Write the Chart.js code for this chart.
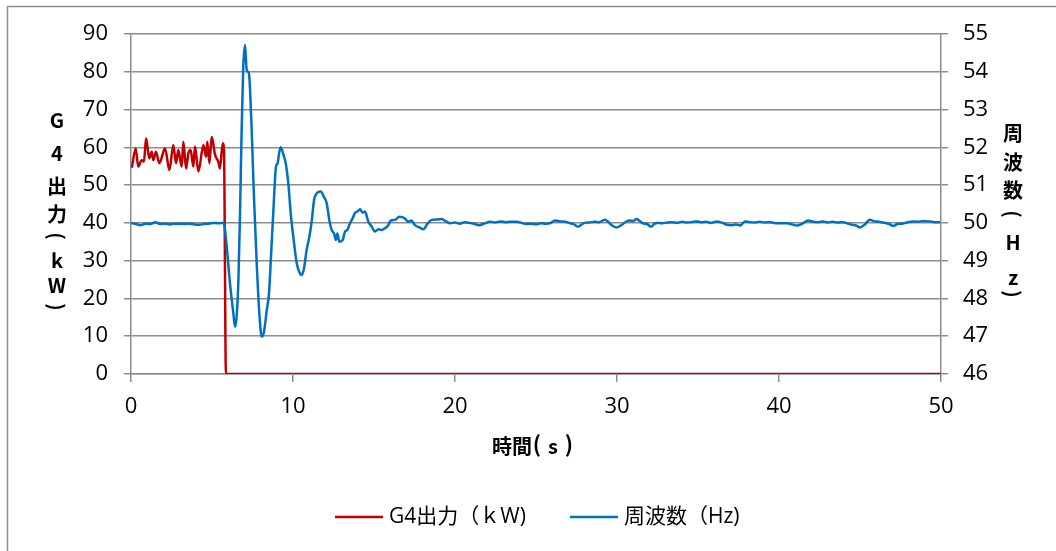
<!DOCTYPE html>
<html>
<head>
<meta charset="utf-8">
<script src="https://cdn.jsdelivr.net/npm/chart.js@4/dist/chart.umd.min.js"></script>
<style>
  html, body { margin: 0; padding: 0; background: #fff; overflow: hidden; }
  #wrap { position: absolute; left: 0; top: 0; width: 1056px; height: 551px; }
</style>
</head>
<body>
<div id="wrap"><canvas id="c" width="1056" height="551"></canvas></div>
<script>
// G4 output (kW) over time (s)
const powerTime = [0.05, 0.29, 0.45, 0.66, 0.80, 0.93, 1.13, 1.28, 1.38, 1.54, 1.75, 2.10, 2.37, 2.61, 2.78, 2.92,
  3.13, 3.23, 3.40, 3.54, 3.68, 3.85, 3.95, 4.16, 4.47, 4.63, 4.71, 4.84, 4.98, 5.19, 5.39, 5.49, 5.66, 5.74, 5.86, 50];
const powerKW = [54.6, 59.7, 54.9, 56.6, 56.2, 62.4, 57.1, 58.8, 56.6, 58.8, 55.8, 59.7, 54.0, 60.6, 55.8, 59.3,
  54.9, 61.5, 54.4, 58.4, 59.3, 54.9, 60.2, 53.6, 60.6, 57.5, 61.5, 55.8, 62.8, 58.0, 56.2, 54.4, 61.1, 59.3, 0, 0];

// Grid frequency (Hz) over time (s)
const freqTime = [0.0, 0.3, 0.6, 0.9, 1.2, 1.5, 1.8, 2.1, 2.4, 2.7, 3.0, 3.3, 3.6, 3.9, 4.2, 4.5, 4.8, 5.1, 5.4, 5.72,
  5.91, 6.11, 6.32, 6.42, 6.52, 6.63, 6.73, 6.83, 6.93, 7.04, 7.14, 7.28, 7.35, 7.45, 7.59, 7.76, 7.92, 8.07, 8.21,
  8.38, 8.52, 8.64, 8.79, 8.95, 9.05, 9.14, 9.24, 9.40, 9.55, 9.71, 9.86, 10.02, 10.23, 10.43, 10.54, 10.68, 10.84,
  11.01, 11.15, 11.30, 11.46, 11.71, 11.91, 12.08, 12.24, 12.39, 12.53, 12.65, 12.74, 12.86, 13.07, 13.21, 13.35,
  13.52, 13.68, 13.83, 13.97, 14.14, 14.30, 14.44, 14.65, 14.86, 15.06, 15.27, 15.47, 15.68, 15.88, 16.03, 16.30,
  16.56, 16.90, 17.12, 17.30, 17.53, 17.80, 18.05, 18.30, 18.56, 18.90, 19.18, 19.45,
  19.7, 20.0, 20.3, 20.6, 20.9, 21.2, 21.5, 21.8, 22.16, 22.5, 22.8, 23.1, 23.4, 23.8, 24.1, 24.4, 24.7, 25.0, 25.3,
  25.6, 25.86, 26.17, 26.5, 26.8, 27.1, 27.35, 27.6, 27.8, 28.0, 28.3, 28.6, 28.9, 29.26, 29.45, 29.67, 29.98, 30.3,
  30.55, 30.8, 31.0, 31.2, 31.4, 31.6, 31.85, 32.1, 32.3, 32.45, 32.8, 33.1, 33.4, 33.7, 34.0, 34.3, 34.6, 34.9,
  35.2, 35.5, 35.8, 36.15, 36.5, 36.8, 37.1, 37.35, 37.6, 37.9, 38.2, 38.5, 38.8, 39.1, 39.4, 39.7, 40.0, 40.5,
  40.8, 41.1, 41.4, 41.8, 42.1, 42.4, 42.7, 43.0, 43.3, 43.6, 43.97, 44.2, 44.5, 44.75, 45.0, 45.3, 45.6, 45.9,
  46.2, 46.4, 46.65, 46.85, 47.06, 47.3, 47.57, 47.9, 48.3, 48.6, 48.9, 49.3, 49.6, 49.94];
const freqHz = [50.00, 49.97, 49.94, 49.98, 49.97, 50.02, 49.97, 49.98, 49.96, 49.98, 49.98, 49.97, 49.98, 49.96,
  49.95, 49.97, 49.98, 50.00, 49.99, 50.00,
  49.37, 48.40, 47.60, 47.25, 47.52, 48.49, 50.25, 52.46, 54.13, 54.71, 54.05, 53.96, 53.52, 52.46, 50.69, 48.93,
  47.61, 46.99, 47.12, 47.69, 48.14, 49.10, 50.34, 51.49, 51.58, 51.84, 52.00, 51.82, 51.58, 51.05, 50.25, 49.63,
  48.93, 48.66, 48.62, 48.80, 49.28, 49.63, 50.03, 50.61, 50.78, 50.83, 50.69, 50.52, 50.08, 49.81, 49.72, 49.55,
  49.72, 49.50, 49.55, 49.77, 49.81, 49.99, 50.12, 50.27, 50.30, 50.36, 50.27, 50.30, 50.03, 49.90, 49.77, 49.83,
  49.81, 49.86, 49.94, 50.06, 50.08, 50.16, 50.12, 50.03, 50.06, 49.94, 49.88, 49.83, 49.98, 50.08, 50.09, 50.10,
  50.04,
  49.99, 50.01, 49.98, 50.02, 50.00, 49.97, 49.94, 49.98, 50.03, 50.01, 50.04, 50.02, 50.03, 50.03, 50.00, 49.97,
  49.98, 49.96, 49.99, 49.98, 49.99, 50.06, 50.04, 50.03, 49.99, 49.96, 49.90, 49.95, 50.00, 50.01, 50.03, 50.02,
  50.08, 50.03, 49.94, 49.88, 49.95, 50.03, 50.06, 50.05, 50.10, 50.05, 49.99, 49.97, 49.90, 49.97, 50.00, 49.99,
  50.01, 50.02, 50.00, 50.03, 50.01, 50.02, 50.04, 50.02, 50.03, 50.00, 50.04, 50.00, 49.95, 49.94, 49.96, 49.93,
  50.04, 50.02, 50.01, 50.03, 50.01, 50.02, 50.00, 49.99, 49.99, 49.96, 49.93, 49.97, 50.06, 50.03, 50.02, 50.04,
  50.01, 50.03, 50.01, 50.02, 49.99, 49.95, 49.93, 49.88, 49.96, 50.08, 50.04, 50.03, 50.01, 49.99, 49.96, 49.92,
  49.97, 49.98, 50.01, 50.04, 50.03, 50.05, 50.04, 50.02, 50.02];

// Axis ranges and labels
const timeTicks = [0, 10, 20, 30, 40, 50];
const powerRange = [0, 90];
const freqRange = [46, 55];
const seriesNames = ['G4出力（ｋW)', '周波数（Hz)'];
const xTitleParts = ['時間', '(', 's', ')'];
const leftTitle = ['G', '4', '出', '力', '(', 'k', 'W', ')'];
const rightTitle = ['周', '波', '数', '(', 'H', 'z', ')'];

const RED = '#C00000';
const BLUE = '#0070C0';
const GRID = '#8c8c8c';
const FONT = "'Open Sans', 'Noto Sans CJK JP', sans-serif";
const CJK = "'Noto Sans CJK JP', 'Open Sans', sans-serif";

const powerPts = powerTime.map((t, i) => ({ x: t, y: powerKW[i] }));
const freqPts = freqTime.map((t, i) => ({ x: t, y: freqHz[i] }));

// stacked vertical title: brackets are turned a quarter so they read top-to-bottom
function drawStacked(ctx, chars, x, ys) {
  chars.forEach((ch, i) => {
    if (ch === '(' || ch === ')') {
      ctx.save();
      ctx.translate(x, ys[i]);
      ctx.rotate(Math.PI / 2);
      ctx.fillText(ch, 0, 0);
      ctx.restore();
    } else {
      ctx.fillText(ch, x, ys[i]);
    }
  });
}

const decor = {
  id: 'decor',
  beforeDraw(chart) {
    const ctx = chart.ctx;
    ctx.save();
    ctx.fillStyle = '#fff';
    ctx.fillRect(0, 0, chart.width, chart.height);
    ctx.strokeStyle = '#8e8e8e';
    ctx.lineWidth = 1.5;
    ctx.strokeRect(7.5, 6.5, 1200, 700);
    ctx.restore();
  },
  afterDraw(chart) {
    const ctx = chart.ctx;
    ctx.save();
    ctx.fillStyle = '#000';
    ctx.textAlign = 'center';
    ctx.textBaseline = 'middle';
    // vertical axis titles
    ctx.font = 'bold 20px ' + CJK;
    drawStacked(ctx, leftTitle, 57, [120, 153, 186, 214, 236, 260, 285, 307]);
    drawStacked(ctx, rightTitle, 1013, [133, 162, 190, 214, 242, 277, 294]);
    // horizontal axis title
    const xs = [512, 537, 553, 569];
    const sizes = [20, 22, 20, 22];
    xTitleParts.forEach((p, i) => {
      ctx.font = 'bold ' + sizes[i] + 'px ' + CJK;
      ctx.fillText(p, xs[i], sizes[i] === 22 ? 444 : 446);
    });
    // legend
    const ly2 = 517;
    const items = [
      { x: 335, color: RED, label: seriesNames[0] },
      { x: 570, color: BLUE, label: seriesNames[1] }
    ];
    ctx.font = '21px ' + FONT;
    ctx.textAlign = 'left';
    items.forEach(it => {
      ctx.strokeStyle = it.color;
      ctx.lineWidth = 2.5;
      ctx.beginPath();
      ctx.moveTo(it.x, ly2);
      ctx.lineTo(it.x + 48, ly2);
      ctx.stroke();
      ctx.fillText(it.label, it.x + 54, ly2);
    });
    ctx.restore();
  }
};

new Chart(document.getElementById('c'), {
  type: 'line',
  data: {
    datasets: [
      {
        label: seriesNames[0],
        data: powerPts,
        yAxisID: 'y',
        borderColor: RED,
        backgroundColor: RED,
        borderWidth: 2.5,
        pointRadius: 0,
        cubicInterpolationMode: 'monotone',
        order: 1
      },
      {
        label: seriesNames[1],
        data: freqPts,
        yAxisID: 'y1',
        borderColor: BLUE,
        backgroundColor: BLUE,
        borderWidth: 2.5,
        pointRadius: 0,
        cubicInterpolationMode: 'monotone',
        order: 0
      }
    ]
  },
  options: {
    responsive: false,
    animation: false,
    devicePixelRatio: 1,
    layout: { padding: { top: 34, left: 0, right: 0, bottom: 0 } },
    plugins: { legend: { display: false }, tooltip: { enabled: false } },
    scales: {
      x: {
        type: 'linear',
        min: timeTicks[0],
        max: timeTicks[timeTicks.length - 1],
        afterBuildTicks(scale) { scale.ticks = timeTicks.map(v => ({ value: v })); },
        afterFit(scale) { scale.height = 551 - 374; },
        grid: { drawOnChartArea: false, drawTicks: true, tickLength: 8, color: GRID, lineWidth: 1.5 },
        border: { color: GRID, width: 1.5 },
        ticks: { color: '#000', font: { family: FONT, size: 22 }, padding: 12, maxRotation: 0 }
      },
      y: {
        position: 'left',
        min: powerRange[0],
        max: powerRange[1],
        afterFit(scale) { scale.width = 131; },
        grid: { drawOnChartArea: true, drawTicks: true, tickLength: 7, color: GRID, lineWidth: 1.5 },
        border: { color: GRID, width: 1.5 },
        ticks: { stepSize: 10, color: '#000', font: { family: FONT, size: 22 }, padding: 16 }
      },
      y1: {
        position: 'right',
        min: freqRange[0],
        max: freqRange[1],
        afterFit(scale) { scale.width = 1056 - 941; },
        grid: { drawOnChartArea: false, drawTicks: true, tickLength: 7, color: GRID, lineWidth: 1.5 },
        border: { color: GRID, width: 1.5 },
        ticks: { stepSize: 1, color: '#000', font: { family: FONT, size: 22 }, padding: 15 }
      }
    }
  },
  plugins: [decor]
});
</script>
</body>
</html>
